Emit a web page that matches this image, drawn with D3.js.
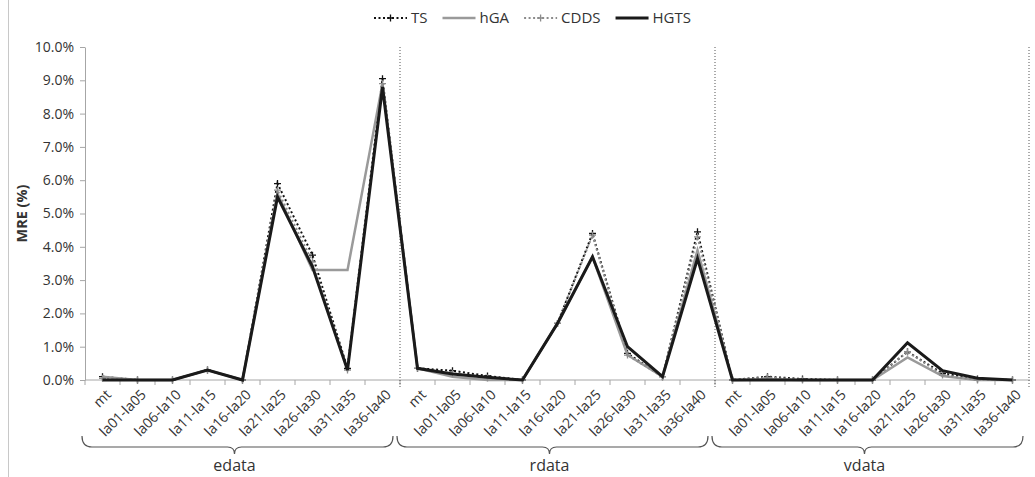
<!DOCTYPE html>
<html lang="en">
<head>
    <meta charset="UTF-8">
    <title>MRE by instance group</title>
    <script src="https://d3js.org/d3.v7.min.js"></script>
    <style>
        body {
            margin: 0;
            background: #fff;
            font-family: "Open Sans", Arial, sans-serif;
        }
        svg text {
            fill: #333;
        }
    </style>
</head>
<body>
    <svg id="chart"></svg>

    <script>
        const width = 1035;
        const height = 477;

        const groups = ["edata", "rdata", "vdata"];
        const categories = ["mt", "la01-la05", "la06-la10", "la11-la15", "la16-la20",
            "la21-la25", "la26-la30", "la31-la35", "la36-la40"];
        const yTicks = [0, 1, 2, 3, 4, 5, 6, 7, 8, 9, 10];

        // MRE in %, edata / rdata / vdata, 9 values each
        const tsValues = [
            0.1, 0, 0, 0.3, 0, 5.9, 3.75, 0.35, 9.05,
            0.35, 0.28, 0.12, 0, 1.7, 4.4, 0.8, 0.1, 4.45,
            0, 0.1, 0.03, 0, 0, 0.85, 0.2, 0.03, 0
        ];
        const hgaValues = [
            0.1, 0, 0, 0.3, 0, 5.6, 3.3, 3.3, 8.9,
            0.35, 0.1, 0, 0, 1.7, 3.7, 0.75, 0.1, 3.9,
            0, 0.02, 0, 0, 0, 0.68, 0.12, 0, 0
        ];
        const cddsValues = [
            0.05, 0, 0, 0.3, 0, 5.7, 3.55, 0.3, 8.9,
            0.35, 0.2, 0.06, 0, 1.7, 4.35, 0.75, 0.1, 4.3,
            0, 0.08, 0, 0, 0, 0.85, 0.15, 0, 0
        ];
        const hgtsValues = [
            0, 0, 0, 0.3, 0, 5.5, 3.4, 0.3, 8.8,
            0.35, 0.18, 0.08, 0, 1.7, 3.7, 1.0, 0.1, 3.65,
            0, 0, 0, 0, 0, 1.12, 0.28, 0.05, 0
        ];

        const series = [
            { name: "TS", values: tsValues, color: "#111", width: 2, dash: "2,2.5", marker: true },
            { name: "hGA", values: hgaValues, color: "#9a9a9a", width: 2.5, dash: null, marker: false },
            { name: "CDDS", values: cddsValues, color: "#8c8c8c", width: 2, dash: "2,2.5", marker: true },
            { name: "HGTS", values: hgtsValues, color: "#1a1a1a", width: 3, dash: null, marker: false }
        ];

        const keys = [];
        groups.forEach(g => categories.forEach(c => keys.push(g + "|" + c)));

        const margin = { top: 47, right: 5, bottom: 97, left: 85 };

        const svg = d3.select("#chart")
            .attr("width", width)
            .attr("height", height);

        const x = d3.scaleBand()
            .domain(keys)
            .range([margin.left, width - margin.right])
            .padding(0);

        const cx = k => x(k) + x.bandwidth() / 2;

        const y = d3.scaleLinear()
            .domain([0, 10])
            .range([height - margin.bottom, margin.top]);

        // outer frame line on the left
        svg.append("line")
            .attr("x1", 8.5).attr("x2", 8.5)
            .attr("y1", 0).attr("y2", height)
            .attr("stroke", "#c8c8c8");

        // y axis
        const yAxis = svg.append("g")
            .attr("transform", `translate(${margin.left},0)`)
            .call(d3.axisLeft(y).tickValues(yTicks).tickSize(5).tickSizeOuter(0)
                .tickFormat(d => d.toFixed(1) + "%"));
        yAxis.select(".domain").attr("stroke", "#a6a6a6");
        yAxis.selectAll(".tick line").attr("stroke", "#a6a6a6");
        yAxis.selectAll(".tick text")
            .attr("x", -11)
            .attr("fill", "#333")
            .style("font-size", "14px")
            .style("font-family", "'Open Sans', Arial, sans-serif");

        svg.append("text")
            .attr("transform", `translate(22,${(y(0) + y(10)) / 2}) rotate(-90)`)
            .attr("text-anchor", "middle")
            .attr("dy", "0.35em")
            .style("font-size", "14.5px")
            .style("font-weight", "bold")
            .text("MRE (%)");

        // x axis
        const x0 = margin.left, x1 = width - margin.right, yBase = y(0);
        svg.append("line")
            .attr("x1", x0).attr("x2", x1)
            .attr("y1", yBase).attr("y2", yBase)
            .attr("stroke", "#a6a6a6");

        svg.append("g")
            .selectAll("line")
            .data(keys)
            .join("line")
            .attr("x1", d => x(d)).attr("x2", d => x(d))
            .attr("y1", yBase).attr("y2", yBase + 5)
            .attr("stroke", "#a6a6a6");

        // dotted group separators
        const sepX = groups.slice(1).map(g => x(g + "|" + categories[0])).concat([x1 - 1]);
        svg.append("g")
            .selectAll("line")
            .data(sepX)
            .join("line")
            .attr("x1", d => d).attr("x2", d => d)
            .attr("y1", margin.top).attr("y2", yBase + 8)
            .attr("stroke", "#555")
            .attr("stroke-width", 1)
            .attr("stroke-dasharray", "1,2");

        svg.append("g")
            .selectAll("text")
            .data(keys)
            .join("text")
            .attr("transform", d => `translate(${cx(d) + 6},${yBase + 12}) rotate(-45)`)
            .attr("text-anchor", "end")
            .attr("dy", "0.35em")
            .style("font-size", "14px")
            .text(d => d.split("|")[1]);

        // braces under each group
        const braceTop = 436, braceMid = 447, braceTip = 454;
        function bracePath(a, b) {
            const m = (a + b) / 2 - 3;
            return `M${a},${braceTop} Q${a},${braceMid} ${a + 10},${braceMid}` +
                ` L${m - 7},${braceMid} Q${m},${braceMid} ${m},${braceTip}` +
                ` Q${m},${braceMid} ${m + 7},${braceMid}` +
                ` L${b - 10},${braceMid} Q${b},${braceMid} ${b},${braceTop}`;
        }
        groups.forEach(g => {
            const a = x(g + "|" + categories[0]) - 3;
            const b = x(g + "|" + categories[categories.length - 1]) + x.bandwidth() - 7;
            svg.append("path")
                .attr("d", bracePath(a, b))
                .attr("fill", "none")
                .attr("stroke", "#555")
                .attr("stroke-width", 1.2);
            svg.append("text")
                .attr("x", (a + b) / 2 - 3)
                .attr("y", 471)
                .attr("text-anchor", "middle")
                .style("font-size", "16px")
                .text(g);
        });

        // lines
        const line = d3.line()
            .x((d, i) => cx(keys[i]))
            .y(d => y(d));

        series.forEach(s => {
            svg.append("path")
                .datum(s.values)
                .attr("fill", "none")
                .attr("stroke", s.color)
                .attr("stroke-width", s.width)
                .attr("stroke-dasharray", s.dash)
                .attr("stroke-linejoin", "miter")
                .attr("d", line);
            if (s.marker) {
                svg.append("g")
                    .selectAll("path")
                    .data(s.values)
                    .join("path")
                    .attr("d", (d, i) => {
                        const px = cx(keys[i]), py = y(d);
                        return `M${px - 3.5},${py}H${px + 3.5}M${px},${py - 3.5}V${py + 3.5}`;
                    })
                    .attr("stroke", s.color)
                    .attr("stroke-width", 1.3);
            }
        });

        // legend
        const legend = svg.append("g").attr("transform", "translate(0,18)");
        let lx = 374;
        series.forEach(s => {
            const item = legend.append("g").attr("transform", `translate(${lx},0)`);
            item.append("line")
                .attr("x1", 0).attr("x2", 33)
                .attr("stroke", s.color)
                .attr("stroke-width", s.width)
                .attr("stroke-dasharray", s.dash);
            if (s.marker) {
                item.append("path")
                    .attr("d", "M13,0H20M16.5,-3.5V3.5")
                    .attr("stroke", s.color)
                    .attr("stroke-width", 1.3);
            }
            const t = item.append("text")
                .attr("x", 37)
                .attr("dy", "0.35em")
                .style("font-size", "15px")
                .text(s.name);
            lx += 37 + t.node().getComputedTextLength() + 15;
        });
    </script>
</body>
</html>
